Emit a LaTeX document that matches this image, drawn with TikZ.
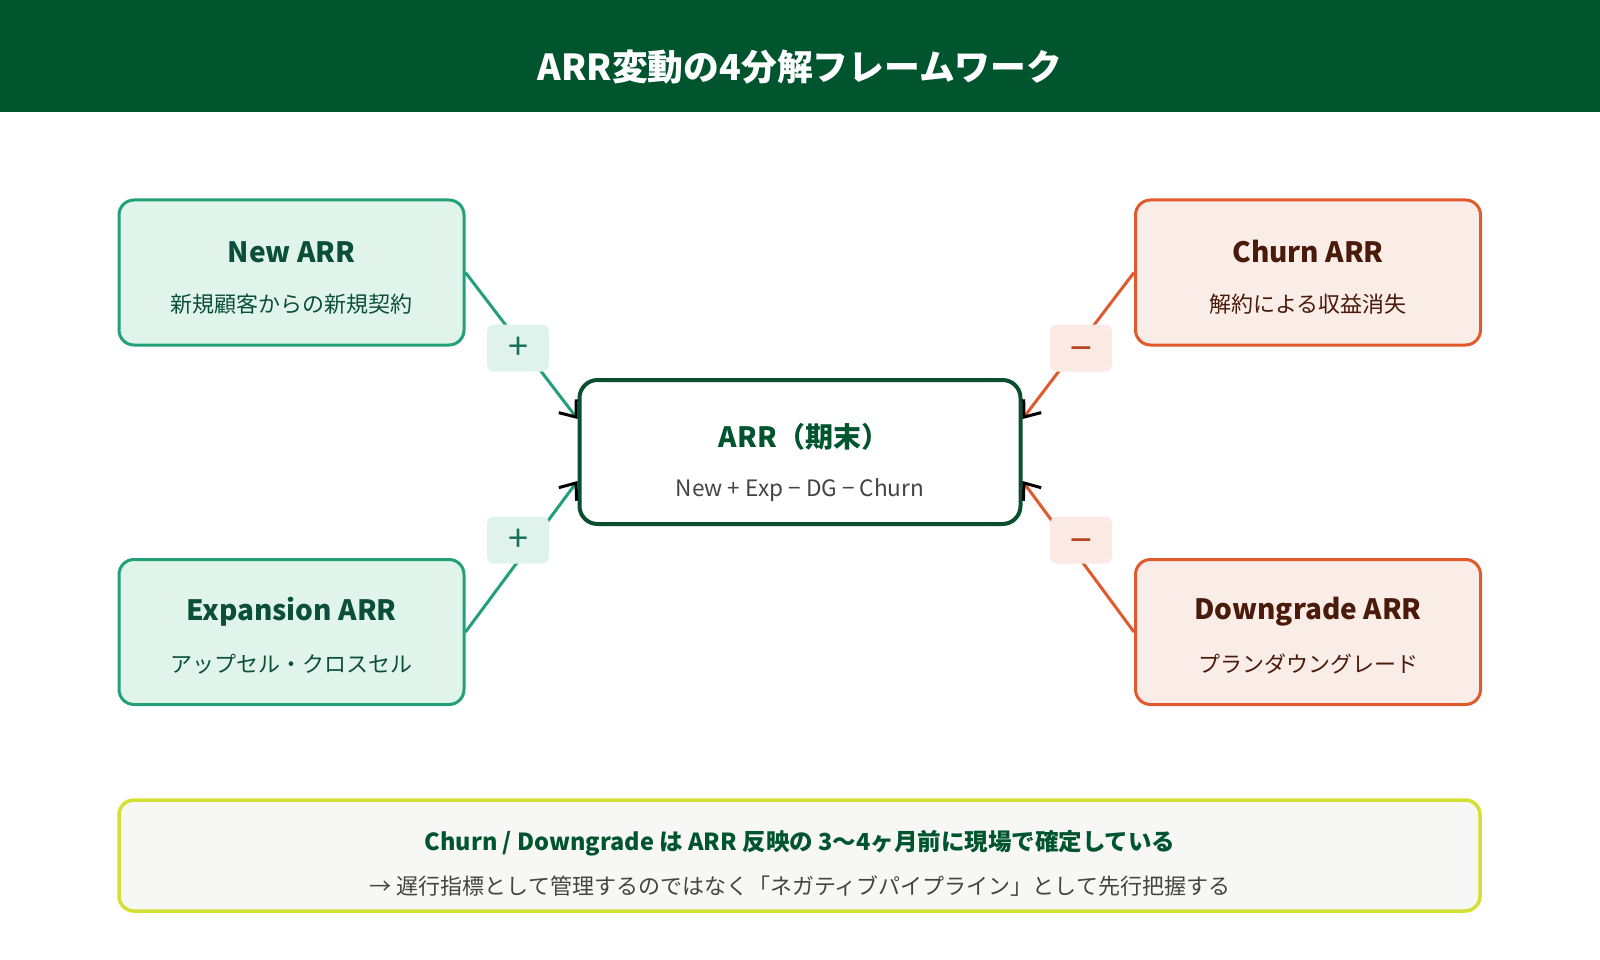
\documentclass[tikz,border=0pt]{standalone}
\usepackage{fontspec}
\setmainfont{Noto Sans CJK JP}
\usetikzlibrary{arrows.meta}
\definecolor{hdr}{HTML}{00552F}
\definecolor{gline}{HTML}{22A07A}
\definecolor{gfill}{HTML}{E1F4EC}
\definecolor{gtext}{HTML}{0B4F3A}
\definecolor{oline}{HTML}{E05A2D}
\definecolor{ofill}{HTML}{FAECE6}
\definecolor{otext}{HTML}{4A1A0A}
\definecolor{cline}{HTML}{0B4F2E}
\definecolor{ctext}{HTML}{00552F}
\definecolor{grey}{HTML}{444444}
\definecolor{yline}{HTML}{D4E034}
\definecolor{yfill}{HTML}{F7F7F5}
\definecolor{gbadge}{HTML}{DFF3EC}
\definecolor{obadge}{HTML}{FAEAE3}
\definecolor{gsym}{HTML}{1A6E55}
\definecolor{osym}{HTML}{B5421C}
\tikzset{
  gbox/.style={draw=gline, fill=gfill, line width=3pt, rounded corners=15pt, minimum width=345pt, minimum height=145pt, inner sep=0pt},
  obox/.style={draw=oline, fill=ofill, line width=3pt, rounded corners=15pt, minimum width=345pt, minimum height=145pt, inner sep=0pt},
  cbox/.style={draw=cline, fill=white, line width=4pt, rounded corners=18pt, minimum width=441pt, minimum height=144pt, inner sep=0pt},
  ttl/.style={font=\bfseries\fontsize{28}{32}\selectfont, inner sep=0pt},
  sub/.style={font=\fontsize{22}{26}\selectfont, inner sep=0pt},
  badge/.style={rounded corners=7pt, minimum width=62pt, minimum height=47pt, inner sep=0pt},
  sym/.style={inner sep=0pt, font=\fontsize{36}{40}\selectfont},
  tipb/.tip={Straight Barb[length=14pt,width=22pt,line width=3pt,color=black]},
  gconn/.style={draw=gline, line width=3pt, -tipb},
  oconn/.style={draw=oline, line width=3pt, -tipb},
}
\begin{document}
\begin{tikzpicture}[x=1pt,y=-1pt]
\useasboundingbox (0,0) rectangle (1600,960);
\fill[white] (0,0) rectangle (1600,960);
\fill[hdr] (0,0) rectangle (1600,112);
\node[font=\bfseries\fontsize{35.8}{40}\selectfont, text=white, inner sep=0pt] (title) at (800,67) {ARR変動の4分解フレームワーク};

% boxes
\node[gbox] (new) at (291.5,272.5) {};
\node[gbox] (exp) at (291.5,632) {};
\node[obox] (churn) at (1308,272.5) {};
\node[obox] (dg) at (1308,632) {};
\node[cbox] (arr) at (800,452) {};

% connectors
\draw[gconn] (new.east) -- ([yshift=33pt]arr.west);
\draw[gconn] (exp.east) -- ([yshift=-29pt]arr.west);
\draw[oconn] (churn.west) -- ([yshift=33pt]arr.east);
\draw[oconn] (dg.west) -- ([yshift=-29pt]arr.east);

% badges
\node[badge, fill=gbadge] (b1) at (518,348) {};
\node[badge, fill=gbadge] (b2) at (518,540) {};
\node[badge, fill=obadge] (b3) at (1081,348) {};
\node[badge, fill=obadge] (b4) at (1081,540) {};
\node[sym, text=gsym] (s1) at (b1.center) {+};
\node[sym, text=gsym] (s2) at (b2.center) {+};
\node[sym, text=osym, yshift=-7pt, font=\fontsize{39}{40}\selectfont] (s3) at (b3.center) {−};
\node[sym, text=osym, yshift=-7pt, font=\fontsize{39}{40}\selectfont] (s4) at (b4.center) {−};

% texts
\node[ttl, text=gtext] (newt) at (291.5,252) {New ARR};
\node[sub, text=gtext] (news) at (291.5,304) {新規顧客からの新規契約};
\node[ttl, text=gtext] (expt) at (291.5,612) {Expansion ARR};
\node[sub, text=gtext] (exps) at (291.5,664) {アップセル・クロスセル};
\node[ttl, text=otext] (churnt) at (1308,252) {Churn ARR};
\node[sub, text=otext] (churns) at (1308,304) {解約による収益消失};
\node[ttl, text=otext] (dgt) at (1308,612) {Downgrade ARR};
\node[sub, text=otext] (dgs) at (1308,664) {プランダウングレード};
\node[ttl, text=ctext] (arrt) at (804,437) {ARR（期末）};
\node[font=\fontsize{22.6}{26}\selectfont, inner sep=0pt, text=grey] (arrs) at (800,490) {New + Exp − DG − Churn};

% bottom note
\node[draw=yline, fill=yfill, line width=3.5pt, rounded corners=15pt, minimum width=1361pt, minimum height=111pt, inner sep=0pt] (note) at (799.5,855.5) {};
\node[font=\bfseries\fontsize{23.5}{26}\selectfont, text=ctext, inner sep=0pt] (note1) at (800,843) {Churn / Downgrade は ARR 反映の 3〜4ヶ月前に現場で確定している};
\node[sub, text=grey] (note2) at (800,886) {→ 遅行指標として管理するのではなく「ネガティブパイプライン」として先行把握する};
\end{tikzpicture}
\end{document}
